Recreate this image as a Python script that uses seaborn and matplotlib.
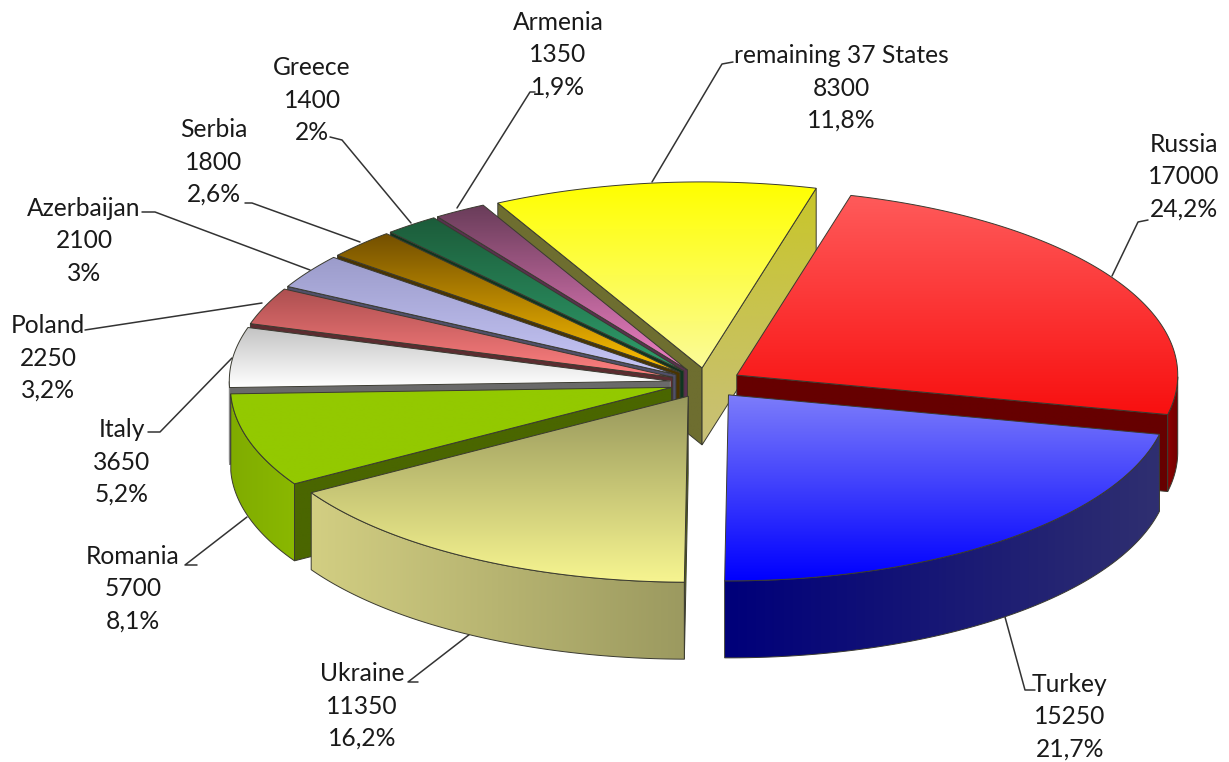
import numpy as np
import matplotlib
matplotlib.use("Agg")
import matplotlib.pyplot as plt
from matplotlib.patches import Polygon
import seaborn as sns

# ---- data ----
countries = ["Russia", "Turkey", "Ukraine", "Romania", "Italy", "Poland",
             "Azerbaijan", "Serbia", "Greece", "Armenia", "remaining 37 States"]
values = [17000, 15250, 11350, 5700, 3650, 2250, 2100, 1800, 1400, 1350, 8300]
percent_labels = ["24,2%", "21,7%", "16,2%", "8,1%", "5,2%", "3,2%",
                  "3%", "2,6%", "2%", "1,9%", "11,8%"]

# ---- styles: (top gradient back->front, start face, end face, wall right->left) ----
top_back = ["#ff5a5a", "#7c7cfa", "#98985c", "#93c900", "#c4c4c4", "#ad4f50",
            "#9c9ccb", "#745000", "#1c5c3a", "#6a3d5a", "#ffff00"]
top_front = ["#f81010", "#0000ff", "#f6f490", "#93c900", "#ffffff", "#ff8080",
             "#c6c6f6", "#ffc000", "#2f9e6c", "#f080c4", "#fbfb98"]
start_face = ["#c6c23a", "#66000a", "#5a6a10", "#4a6600", "#6a6a6a", "#5c2c30",
              "#50506a", "#4a3400", "#0f3520", "#5a3050", "#6e6e30"]
end_face = ["#660000", "#00007a", "#9a9860", "#4a6600", "#6a6a6a", "#5c2c30",
            "#50506a", "#4a3400", "#0f3520", "#5a3050", "#c8c62a"]
end_face_low = ["#660000", "#00007a", "#9a9860", "#4a6600", "#6a6a6a", "#5c2c30",
                "#50506a", "#4a3400", "#0f3520", "#5a3050", "#c8c078"]
wall_right = ["#6e0000", "#2f2f70", "#9c9a60", "#8ab800", "#d0d0d0", "#a05050",
              "#9090c0", "#8a6a00", "#206040", "#804070", "#c8c62a"]
wall_left = ["#8c0000", "#00007a", "#d2ce82", "#80ac00", "#d0d0d0", "#a05050",
             "#9090c0", "#8a6a00", "#206040", "#804070", "#c8c62a"]
face_edges = ["#3a3a30", "#3a3a30", "#3a3a30", "#3a3a30", "#8a8a8a", "#3a3a30",
              "#3a3a30", "#3a3a30", "#3a3a30", "#3a3a30", "#3a3a30"]
draw_order = [10, 9, 8, 7, 6, 5, 4, 3, 0, 1, 2]

# ---- layout, in picture pixels ----
label_pos = [(1184, 177), (1070, 717), (362, 706), (133, 589), (122, 462), (48, 358),
             (84, 241), (214, 162), (312, 100), (558, 55), (841, 88)]
leaders = [[(1148, 220), (1138, 222), (1112, 276)],
           [(1035, 690), (1025, 690), (1005, 617)],
           [(418, 682), (408, 682), (470, 634)],
           [(197, 565), (185, 565), (247, 517)],
           [(148, 432), (160, 432), (232, 358)],
           [(85, 330), (262, 303)],
           [(142, 212), (155, 212), (310, 270)],
           [(245, 203), (252, 203), (360, 242)],
           [(330, 137), (342, 140), (411, 223)],
           [(535, 92), (530, 92), (457, 208)],
           [(733, 62), (722, 64), (652, 182)]]
CX, CY, RX, RY, DEPTH, EXPL, START = 706, 383, 441, 186, 77, 36, 15.0
TILT = RY / RX

sns.set_theme(style="white")
plt.rcParams["font.family"] = ["Lato", "DejaVu Sans"]

fig = plt.figure(figsize=(12.29, 7.62), dpi=100)
ax = fig.add_axes([0, 0, 1, 1])
W, H = 1229, 762
EDGE = "#3a3a30"


def gradient_poly(pts, c0, c1, vertical=True, z=1, edge=EDGE):
    pts = np.asarray(pts)
    pal = np.array(sns.blend_palette([c0, c1], 64))
    img = pal[:, None, :] if vertical else pal[None, :, :]
    x0, y0 = pts.min(axis=0)
    x1, y1 = pts.max(axis=0)
    poly = Polygon(pts, closed=True, facecolor="none", edgecolor=edge, lw=0.7, zorder=z + 0.01)
    ax.add_patch(poly)
    im = ax.imshow(img, extent=(x0, x1, y1, y0), aspect="auto", zorder=z, interpolation="bilinear")
    im.set_clip_path(poly)


total = sum(values)
sweeps = np.array(values) / total * 360
starts = START + np.concatenate([[0], np.cumsum(sweeps)[:-1]])

z = 1
for i in draw_order:
    a0, a1 = starts[i], starts[i] + sweeps[i]
    mid = np.radians((a0 + a1) / 2)
    ax0 = CX + EXPL * np.sin(mid)
    ay0 = CY - EXPL * TILT * np.cos(mid)
    th = np.radians(np.linspace(a0, a1, 120))
    arc = np.column_stack([ax0 + RX * np.sin(th), ay0 - RY * np.cos(th)])
    apex = np.array([ax0, ay0])
    d = np.array([0, DEPTH])
    # radial cut faces: only those turned towards the viewer
    if np.sin(th[0]) < 0:
        gradient_poly([apex, arc[0], arc[0] + d, apex + d], start_face[i], start_face[i], z=z, edge=face_edges[i]); z += 1
    if np.sin(th[-1]) > 0:
        gradient_poly([apex, arc[-1], arc[-1] + d, apex + d], end_face[i], end_face_low[i], z=z, edge=face_edges[i]); z += 1
    # outer wall, only the part facing the viewer
    mask = (np.degrees(th) % 360 >= 90) & (np.degrees(th) % 360 <= 270)
    if mask.sum() > 1:
        a = arc[mask]
        gradient_poly(np.vstack([a, (a + d)[::-1]]), wall_left[i], wall_right[i], vertical=False, z=z, edge=face_edges[i]); z += 1
    # top
    gradient_poly(np.vstack([apex, arc]), top_back[i], top_front[i], z=z); z += 1

for i, name in enumerate(countries):
    x, y = label_pos[i]
    ax.text(x, y, f"{name}\n{values[i]}\n{percent_labels[i]}", ha="center", va="center",
            fontsize=17.7, color="#1a1a1a", linespacing=1.49, zorder=z + 2)
    ln = np.array(leaders[i])
    ax.plot(ln[:, 0], ln[:, 1], color="#333333", lw=1.1, zorder=0.5)

ax.set_xlim(0, W)
ax.set_ylim(H, 0)
ax.axis("off")
fig.savefig("out.png", dpi=100, facecolor="white")
